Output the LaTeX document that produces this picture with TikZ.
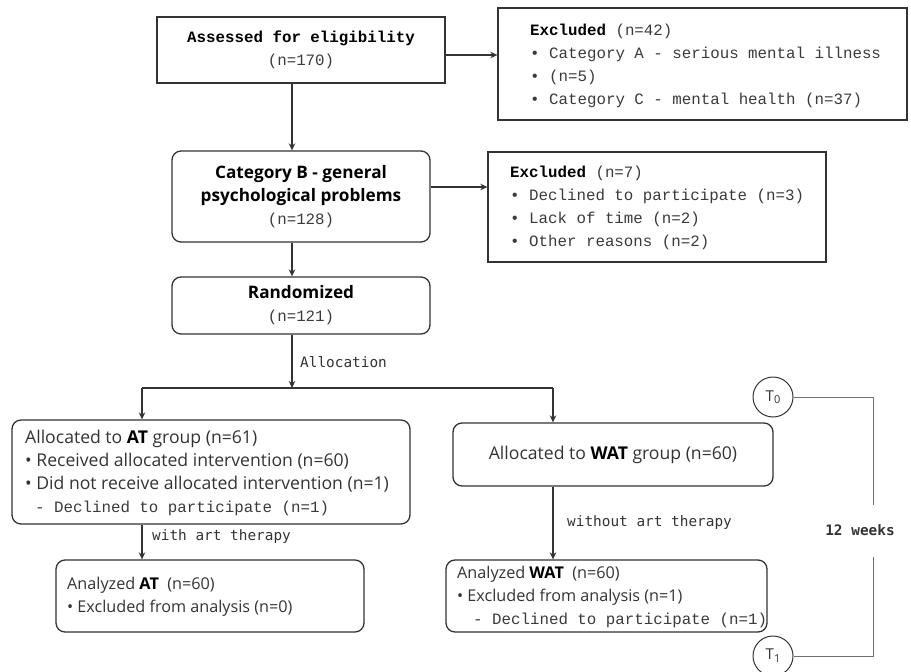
\documentclass[tikz,border=0pt]{standalone}
\usepackage{fontspec}
\setmainfont{Liberation Serif}
\newfontfamily\monof{Liberation Mono}
\newfontfamily\smonof{DejaVu Sans Mono}
\newfontfamily\sansf{Open Sans}
\usetikzlibrary{arrows.meta}
\definecolor{ln}{HTML}{333333}
\definecolor{tx}{HTML}{3A3A3A}
\definecolor{gl}{HTML}{707070}
\newcommand{\mtx}{\monof\fontsize{15.8}{23}\selectfont\color{tx}}
\newcommand{\stx}{\sansf\fontsize{16.2}{23}\selectfont\color{ln}}
\newcommand{\stxl}{\sansf\fontsize{17.6}{23}\selectfont\color{ln}}
\newcommand{\sbx}{\sansf\bfseries\fontsize{17.2}{23}\selectfont\color{black}}
\newcommand{\lbl}{\smonof\fontsize{14.4}{17}\selectfont\color{ln}}
\begin{document}
\begin{tikzpicture}[x=1pt,y=-1pt,
  sq/.style={draw=ln, line width=1.3pt, inner sep=0pt},
  rbox/.style={sq, rounded corners=9pt},
  tblock/.style={inner sep=0pt, anchor=west, align=left},
  arr/.style={draw=ln, line width=1.3pt, -{Stealth[length=7pt,width=6.5pt]}},
  conn/.style={draw=ln, line width=1.3pt},
  brk/.style={draw=gl, line width=1pt},
  tcirc/.style={circle, draw=ln, line width=1pt, minimum size=40pt, inner sep=0pt, font=\sansf\fontsize{15}{16}\selectfont\color{ln}}]
\useasboundingbox (0,0) rectangle (911,672);

% boxes
\node[sq, minimum width=288pt, minimum height=66pt, align=center, font=\mtx] (elig) at (301,50)
  {{\bfseries\color{black}Assessed for eligibility}\\(n=170)};
\node[sq, minimum width=409pt, minimum height=112pt] (ex1) at (702.5,64) {};
\node[tblock, font=\mtx] (ex1t) at (530,66)
  {{\bfseries\color{black}Excluded} (n=42)\\
   • Category A - serious mental illness\\
   • (n=5)\\
   • Category C - mental health (n=37)};

\node[rbox, minimum width=258pt, minimum height=91pt, align=center, font=\mtx] (catb) at (301,196.5)
  {{\sbx Category B - general}\\{\sbx psychological problems}\\(n=128)};
\node[sq, minimum width=338pt, minimum height=110pt] (ex2) at (657,207) {};
\node[tblock, font=\mtx] (ex2t) at (510,207.5)
  {{\bfseries\color{black}Excluded} (n=7)\\
   • Declined to participate (n=3)\\
   • Lack of time (n=2)\\
   • Other reasons (n=2)};

\node[rbox, minimum width=258pt, minimum height=57pt, align=center, font=\mtx] (rand) at (301,305.5)
  {{\sbx Randomized}\\(n=121)};

\node[rbox, minimum width=398pt, minimum height=104pt] (at) at (211,472) {};
\node[tblock, font=\mtx] (att) at (25,472.5)
  {{\stxl Allocated to {\bfseries\color{black}AT} group (n=61)}\\
   {\stxl • Received allocated intervention (n=60)}\\
   {\stxl • Did not receive allocated intervention (n=1)}\\
   \hspace*{10pt}- Declined to participate (n=1)};

\node[rbox, minimum width=320pt, minimum height=63pt, font=\stxl] (wat) at (613,454.5)
  {Allocated to {\bfseries\color{black}WAT} group (n=60)};

\node[rbox, minimum width=308pt, minimum height=72pt] (aat) at (210,596) {};
\node[tblock, font=\stx] (aatt) at (67,596.5)
  {Analyzed {\bfseries\color{black}AT}\ \ (n=60)\\
   • Excluded from analysis (n=0)};

\node[rbox, minimum width=321pt, minimum height=72pt] (awat) at (606.5,596) {};
\node[tblock, font=\mtx] (awatt) at (457,596.5)
  {{\stx Analyzed {\bfseries\color{black}WAT}\ \ (n=60)}\\
   {\stx • Excluded from analysis (n=1)}\\
   \hspace*{16pt}- Declined to participate (n=1)};

% time points
\node[tcirc] (t0) at (773,397) {T\raisebox{-2pt}{\fontsize{11}{12}\selectfont 0}};
\node[tcirc] (t1) at (773,656) {T\raisebox{-3pt}{\fontsize{11}{12}\selectfont 1}};
\node[font=\lbl\bfseries, inner sep=0pt] (wk) at (860,530) {12 weeks};
\coordinate (bt) at (873,505);
\coordinate (bb) at (873,557);
\draw[brk] (t0.east) -| (bt);
\draw[brk] (bb) |- (t1.east);

% connectors
\coordinate (sp) at (292,0);
\coordinate (aL) at (142,388);
\coordinate (aM) at (292,388);
\coordinate (aR) at (553,388);
\coordinate (ce) at (0,55);
\coordinate (cb) at (0,187);
\draw[arr] (elig.east |- ce) -- (ex1.west |- ce);
\draw[arr] (elig.south -| sp) -- (catb.north -| sp);
\draw[arr] (catb.east |- cb) -- (ex2.west |- cb);
\draw[arr] (catb.south -| sp) -- (rand.north -| sp);
\draw[arr] (rand.south -| sp) -- (aM);
\draw[conn] (aL) -- (aR);
\draw[arr] (aL) -- (aL |- at.north);
\draw[arr] (aR) -- (aR |- wat.north);
\draw[arr] (at.south -| aL) -- (aL |- aat.north);
\draw[arr] (wat.south -| aR) -- (aR |- awat.north);

% labels
\node[font=\lbl, inner sep=0pt, anchor=west] (allo) at (300,362) {Allocation};
\node[font=\lbl, inner sep=0pt, anchor=west] (wart) at (152,537) {with art therapy};
\node[font=\lbl, inner sep=0pt, anchor=west] (woart) at (567,523) {without art therapy};
\end{tikzpicture}
\end{document}
